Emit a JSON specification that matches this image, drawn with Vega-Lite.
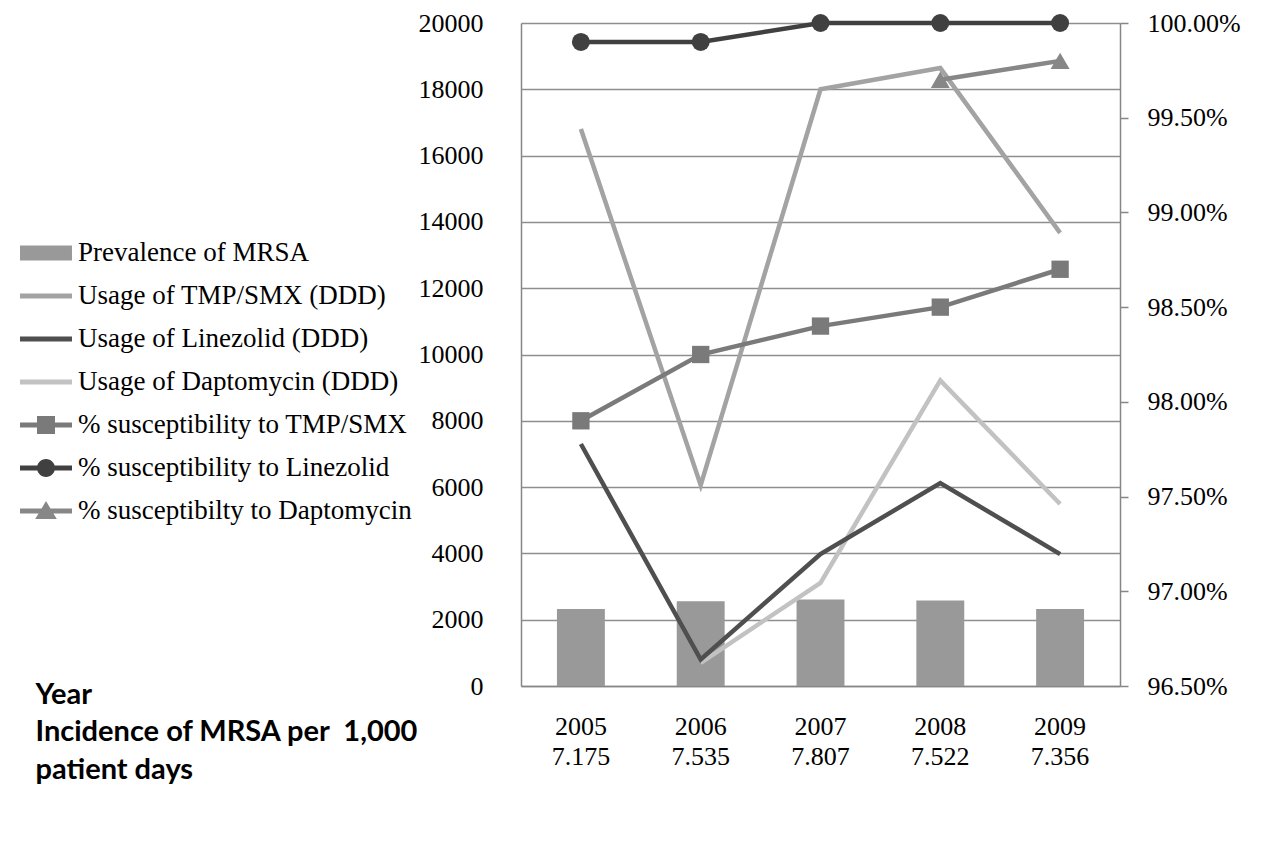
{
  "$schema": "https://vega.github.io/schema/vega-lite/v6.json",
  "width": 599,
  "height": 663,
  "autosize": {"type": "none"},
  "padding": {"left": 521, "top": 23, "right": 146, "bottom": 171},
  "background": "white",
  "config": {
    "view": {"stroke": null},
    "axis": {"labelFont": "Liberation Serif", "labelFontSize": 26, "labelColor": "black", "domainColor": "#868686", "domainWidth": 1.5, "tickColor": "#868686", "tickWidth": 1.5}
  },
  "datasets": {
    "main": [
      {"cat": "2005|7.175", "prevalence": 2320, "tmp_usage": 16800, "lin_usage": 7300, "dap_usage": null, "tmp_sus": 0.979, "lin_sus": 0.999, "dap_sus": null},
      {"cat": "2006|7.535", "prevalence": 2560, "tmp_usage": 6060, "lin_usage": 800, "dap_usage": 700, "tmp_sus": 0.9825, "lin_sus": 0.999, "dap_sus": null},
      {"cat": "2007|7.807", "prevalence": 2610, "tmp_usage": 18000, "lin_usage": 3980, "dap_usage": 3110, "tmp_sus": 0.984, "lin_sus": 1.0, "dap_sus": null},
      {"cat": "2008|7.522", "prevalence": 2580, "tmp_usage": 18640, "lin_usage": 6120, "dap_usage": 9220, "tmp_sus": 0.985, "lin_sus": 1.0, "dap_sus": 0.997},
      {"cat": "2009|7.356", "prevalence": 2320, "tmp_usage": 13670, "lin_usage": 3980, "dap_usage": 5490, "tmp_sus": 0.987, "lin_sus": 1.0, "dap_sus": 0.998}
    ],
    "series": [
      {"series": "Prevalence of MRSA"},
      {"series": "Usage of TMP/SMX (DDD)"},
      {"series": "Usage of Linezolid (DDD)"},
      {"series": "Usage of Daptomycin (DDD)"},
      {"series": "% susceptibility to TMP/SMX"},
      {"series": "% susceptibility to Linezolid"},
      {"series": "% susceptibilty to Daptomycin"}
    ]
  },
  "data": {"name": "main"},
  "layer": [
    {
      "encoding": {
        "x": {
          "field": "cat", "type": "nominal", "sort": null,
          "scale": {"paddingInner": 0, "paddingOuter": 0},
          "axis": {
            "labelExpr": "split(datum.value, '|')", "labelLineHeight": 30, "labelAngle": 0,
            "labelPadding": 27, "ticks": false, "grid": false,
            "title": ["Year", "Incidence of MRSA per \u00a01,000", "patient days"],
            "titleFont": "Lato", "titleFontSize": 29, "titleFontWeight": "bold", "titleColor": "black",
            "titleAlign": "left", "titleBaseline": "alphabetic", "titleAnchor": "start",
            "titleX": -486, "titleY": 17, "titleLineHeight": 37.5
          }
        }
      },
      "layer": [
        {
          "mark": {"type": "bar", "color": "#999999", "width": {"band": 0.4}},
          "encoding": {
            "y": {"field": "prevalence", "type": "quantitative", "scale": {"domain": [0, 20000]},
              "axis": {"orient": "left", "values": [0,2000,4000,6000,8000,10000,12000,14000,16000,18000,20000], "grid": true, "gridColor": "#8e8e8e", "gridWidth": 1.5, "ticks": false, "labelPadding": 38, "title": null, "format": "d"}}
          }
        },
        {
          "mark": {"type": "line", "color": "#a3a3a3", "strokeWidth": 4.5},
          "encoding": {
            "y": {"field": "tmp_usage", "type": "quantitative", "scale": {"domain": [0, 20000]},
              "axis": {"orient": "left", "values": [0,2000,4000,6000,8000,10000,12000,14000,16000,18000,20000], "grid": true, "gridColor": "#8e8e8e", "gridWidth": 1.5, "ticks": false, "labelPadding": 38, "title": null, "format": "d"}}
          }
        },
        {
          "mark": {"type": "line", "color": "#c2c2c2", "strokeWidth": 4.5},
          "encoding": {
            "y": {"field": "dap_usage", "type": "quantitative", "scale": {"domain": [0, 20000]},
              "axis": {"orient": "left", "values": [0,2000,4000,6000,8000,10000,12000,14000,16000,18000,20000], "grid": true, "gridColor": "#8e8e8e", "gridWidth": 1.5, "ticks": false, "labelPadding": 38, "title": null, "format": "d"}}
          }
        },
        {
          "mark": {"type": "line", "color": "#4f4f4f", "strokeWidth": 4.5},
          "encoding": {
            "y": {"field": "lin_usage", "type": "quantitative", "scale": {"domain": [0, 20000]},
              "axis": {"orient": "left", "values": [0,2000,4000,6000,8000,10000,12000,14000,16000,18000,20000], "grid": true, "gridColor": "#8e8e8e", "gridWidth": 1.5, "ticks": false, "labelPadding": 38, "title": null, "format": "d"}}
          }
        }
      ]
    },
    {
      "layer": [
        {
          "mark": {"type": "line", "color": "#7a7a7a", "strokeWidth": 4.5, "point": {"shape": "square", "size": 300, "filled": true, "color": "#7a7a7a", "opacity": 1}},
          "encoding": {
            "x": {"field": "cat", "type": "nominal", "sort": null, "scale": {"paddingInner": 0, "paddingOuter": 0}},
            "y": {"field": "tmp_sus", "type": "quantitative", "scale": {"domain": [0.965, 1]},
              "axis": {"orient": "right", "values": [0.965,0.97,0.975,0.98,0.985,0.99,0.995,1.0], "format": ".2%", "grid": false, "ticks": true, "tickSize": 8, "labelPadding": 19, "title": null}}
          }
        },
        {
          "mark": {"type": "line", "color": "#878787", "strokeWidth": 4.5, "point": {"shape": "triangle-up", "size": 360, "filled": true, "color": "#878787", "opacity": 1}},
          "encoding": {
            "x": {"field": "cat", "type": "nominal", "sort": null, "scale": {"paddingInner": 0, "paddingOuter": 0}},
            "y": {"field": "dap_sus", "type": "quantitative", "scale": {"domain": [0.965, 1]},
              "axis": {"orient": "right", "values": [0.965,0.97,0.975,0.98,0.985,0.99,0.995,1.0], "format": ".2%", "grid": false, "ticks": true, "tickSize": 8, "labelPadding": 19, "title": null}}
          }
        },
        {
          "mark": {"type": "line", "color": "#404040", "strokeWidth": 4.5, "point": {"shape": "circle", "size": 324, "filled": true, "color": "#404040", "opacity": 1}},
          "encoding": {
            "x": {"field": "cat", "type": "nominal", "sort": null, "scale": {"paddingInner": 0, "paddingOuter": 0}},
            "y": {"field": "lin_sus", "type": "quantitative", "scale": {"domain": [0.965, 1]},
              "axis": {"orient": "right", "values": [0.965,0.97,0.975,0.98,0.985,0.99,0.995,1.0], "format": ".2%", "grid": false, "ticks": true, "tickSize": 8, "labelPadding": 19, "title": null}}
          }
        },
        {
          "data": {"name": "series"},
          "mark": {"type": "point", "filled": true, "opacity": 1},
          "encoding": {
            "y": {"field": "hidden", "type": "quantitative", "scale": {"domain": [0.965, 1]},
              "axis": {"orient": "right", "values": [0.965,0.97,0.975,0.98,0.985,0.99,0.995,1.0], "format": ".2%", "grid": false, "ticks": true, "tickSize": 8, "labelPadding": 19, "title": null}},
            "color": {
              "field": "series", "type": "nominal",
              "scale": {
                "domain": ["Prevalence of MRSA", "Usage of TMP/SMX (DDD)", "Usage of Linezolid (DDD)", "Usage of Daptomycin (DDD)", "% susceptibility to TMP/SMX", "% susceptibility to Linezolid", "% susceptibilty to Daptomycin"],
                "range": ["#999999", "#a3a3a3", "#4f4f4f", "#c2c2c2", "#7a7a7a", "#404040", "#878787"]
              },
              "legend": {"title": null, "orient": "none", "legendX": -493, "legendY": 212, "symbolSize": 1296, "symbolStrokeWidth": 0, "symbolOpacity": 1, "labelFont": "Liberation Serif", "labelFontSize": 27, "labelColor": "black", "labelOffset": 14, "rowPadding": 12, "labelLimit": 500}
            },
            "shape": {
              "field": "series", "type": "nominal",
              "scale": {
                "domain": ["Prevalence of MRSA", "Usage of TMP/SMX (DDD)", "Usage of Linezolid (DDD)", "Usage of Daptomycin (DDD)", "% susceptibility to TMP/SMX", "% susceptibility to Linezolid", "% susceptibilty to Daptomycin"],
                "range": [
                  "M-1.444,-0.417L1.444,-0.417L1.444,0.417L-1.444,0.417Z",
                  "M-1.444,-0.139L1.444,-0.139L1.444,0.139L-1.444,0.139Z",
                  "M-1.444,-0.14L1.444,-0.14L1.444,0.14L-1.444,0.14Z",
                  "M-1.444,-0.141L1.444,-0.141L1.444,0.141L-1.444,0.141Z",
                  "M-1.444,-0.139L1.444,-0.139L1.444,0.139L-1.444,0.139ZM-0.5,-0.5L0.5,-0.5L0.5,0.5L-0.5,0.5Z",
                  "M-1.444,-0.139L1.444,-0.139L1.444,0.139L-1.444,0.139ZM0.5,0A0.5,0.5,0,1,1,-0.5,0A0.5,0.5,0,1,1,0.5,0Z",
                  "M-1.444,-0.139L1.444,-0.139L1.444,0.139L-1.444,0.139ZM0,-0.55L0.6,0.45L-0.6,0.45Z"
                ]
              },
              "legend": {"title": null, "orient": "none", "legendX": -493, "legendY": 212, "symbolSize": 1296, "symbolStrokeWidth": 0, "symbolOpacity": 1, "labelFont": "Liberation Serif", "labelFontSize": 27, "labelColor": "black", "labelOffset": 14, "rowPadding": 12, "labelLimit": 500}
            }
          }
        }
      ]
    }
  ],
  "resolve": {"scale": {"y": "independent"}}
}
